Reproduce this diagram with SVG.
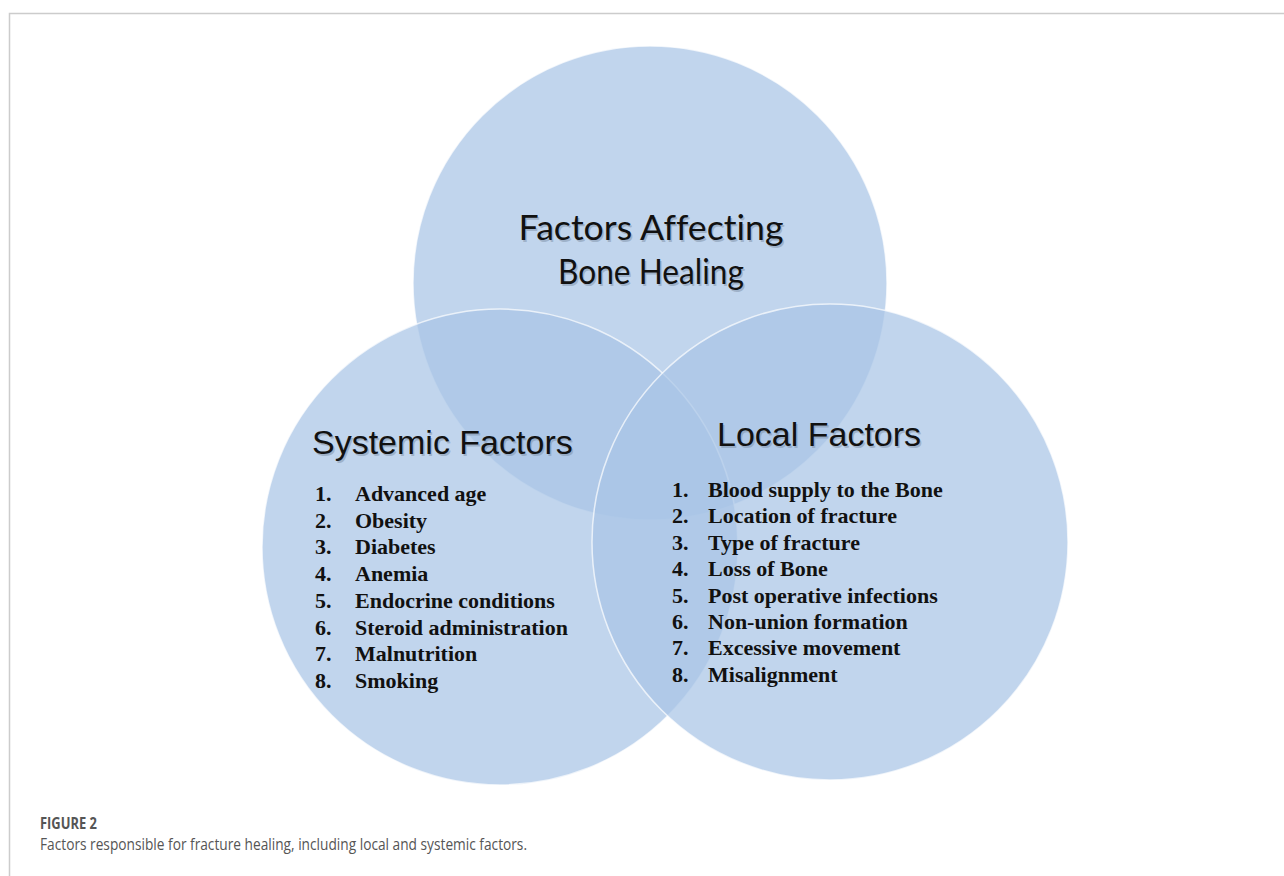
<svg xmlns="http://www.w3.org/2000/svg" width="1284" height="876" viewBox="0 0 1284 876">
<style>
.c{fill:#a9c5e6;fill-opacity:0.72;stroke:#ffffff;stroke-opacity:0.7;stroke-width:1.5}
.h1{font-family:"Lato","Open Sans",sans-serif;font-size:35px;fill:#111;text-anchor:middle;font-variant-ligatures:none}
.h2{font-family:"Liberation Sans",Arial,sans-serif;font-size:34px;fill:#111}
.sh{fill:#7d8fa6;fill-opacity:0.5}
.li{font-family:"Liberation Serif","Times New Roman",serif;font-size:22px;font-weight:bold;fill:#111}
.cap{font-family:"Open Sans","Noto Sans",sans-serif;fill:#555}
</style>
<rect width="1284" height="876" fill="#ffffff"/>
<g id="frame" stroke="#cccccc" stroke-width="1.5" fill="none">
<path d="M9.5,876 V13.5 H1284"/>
</g>
<g id="circle-top"><circle class="c" cx="650" cy="283" r="237"/></g>
<g id="circle-left"><circle class="c" cx="500" cy="547" r="238"/></g>
<g id="circle-right"><circle class="c" cx="830" cy="542" r="238"/></g>
<g id="title">
<text class="h1 sh" x="652.5" y="241.5" textLength="265" lengthAdjust="spacingAndGlyphs">Factors Affecting</text>
<text class="h1 sh" x="652.5" y="285.5" textLength="186" lengthAdjust="spacingAndGlyphs">Bone Healing</text>
<text class="h1" x="651" y="240" textLength="265" lengthAdjust="spacingAndGlyphs">Factors Affecting</text>
<text class="h1" x="651" y="284" textLength="186" lengthAdjust="spacingAndGlyphs">Bone Healing</text>
</g>
<g id="systemic">
<text class="h2 sh" x="313.5" y="455.5">Systemic Factors</text>
<text class="h2" x="312" y="454">Systemic Factors</text>
<text class="li" x="315" y="501">1.</text><text class="li" x="355" y="501">Advanced age</text>
<text class="li" x="315" y="527.7">2.</text><text class="li" x="355" y="527.7">Obesity</text>
<text class="li" x="315" y="554.4">3.</text><text class="li" x="355" y="554.4">Diabetes</text>
<text class="li" x="315" y="581.1">4.</text><text class="li" x="355" y="581.1">Anemia</text>
<text class="li" x="315" y="607.8">5.</text><text class="li" x="355" y="607.8">Endocrine conditions</text>
<text class="li" x="315" y="634.5">6.</text><text class="li" x="355" y="634.5">Steroid administration</text>
<text class="li" x="315" y="661.2">7.</text><text class="li" x="355" y="661.2">Malnutrition</text>
<text class="li" x="315" y="687.9">8.</text><text class="li" x="355" y="687.9">Smoking</text>
</g>
<g id="local">
<text class="h2 sh" x="718.5" y="447.5">Local Factors</text>
<text class="h2" x="717" y="446">Local Factors</text>
<text class="li" x="672" y="497">1.</text><text class="li" x="708" y="497">Blood supply to the Bone</text>
<text class="li" x="672" y="523.4">2.</text><text class="li" x="708" y="523.4">Location of fracture</text>
<text class="li" x="672" y="549.8">3.</text><text class="li" x="708" y="549.8">Type of fracture</text>
<text class="li" x="672" y="576.2">4.</text><text class="li" x="708" y="576.2">Loss of Bone</text>
<text class="li" x="672" y="602.6">5.</text><text class="li" x="708" y="602.6">Post operative infections</text>
<text class="li" x="672" y="629">6.</text><text class="li" x="708" y="629">Non-union formation</text>
<text class="li" x="672" y="655.4">7.</text><text class="li" x="708" y="655.4">Excessive movement</text>
<text class="li" x="672" y="681.8">8.</text><text class="li" x="708" y="681.8">Misalignment</text>
</g>
<g id="caption">
<text class="cap" x="40" y="829" font-size="15.5" font-weight="bold" textLength="57" lengthAdjust="spacingAndGlyphs">FIGURE 2</text>
<text class="cap" x="40" y="850" font-size="15.5" textLength="487" lengthAdjust="spacingAndGlyphs">Factors responsible for fracture healing, including local and systemic factors.</text>
</g>
</svg>
